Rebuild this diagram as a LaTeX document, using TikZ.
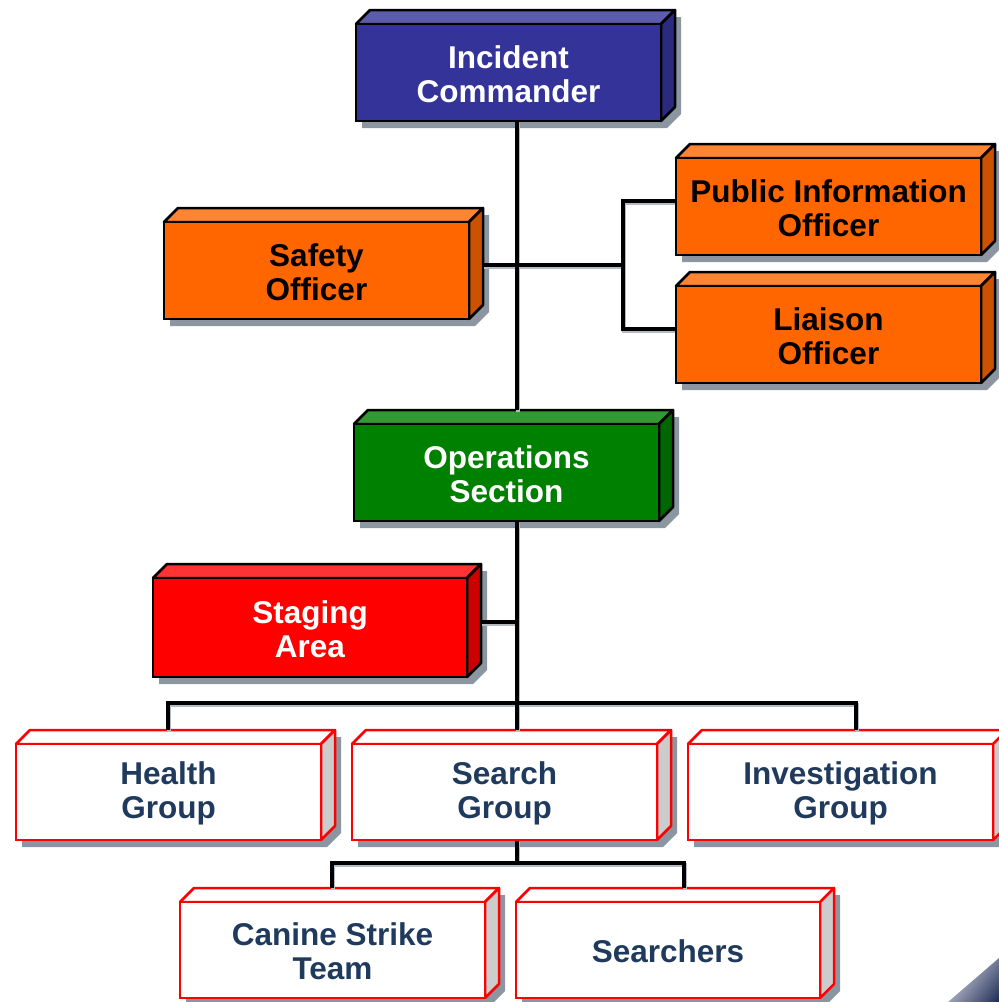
\documentclass[tikz,border=0pt]{standalone}
\usepackage{fontspec}
\setmainfont{Liberation Sans}
\usetikzlibrary{backgrounds,calc,shadings}
\definecolor{blueF}{HTML}{333399}\definecolor{blueT}{HTML}{5C5CAD}\definecolor{blueS}{HTML}{2A2A7F}\colorlet{blueB}{black}\colorlet{blueX}{white}
\definecolor{orangeF}{HTML}{FF6600}\definecolor{orangeT}{HTML}{FF8533}\definecolor{orangeS}{HTML}{CC5200}\colorlet{orangeB}{black}\colorlet{orangeX}{black}
\definecolor{greenF}{HTML}{008000}\definecolor{greenT}{HTML}{339933}\definecolor{greenS}{HTML}{006600}\colorlet{greenB}{black}\colorlet{greenX}{white}
\definecolor{redF}{HTML}{FF0000}\definecolor{redT}{HTML}{FF3333}\definecolor{redS}{HTML}{CC0000}\colorlet{redB}{black}\colorlet{redX}{white}
\definecolor{whiteF}{HTML}{FFFFFF}\definecolor{whiteT}{HTML}{FFFFFF}\definecolor{whiteS}{HTML}{CCCCCC}\definecolor{whiteB}{HTML}{FF0000}\definecolor{whiteX}{HTML}{1F3A5C}
\definecolor{shadowc}{HTML}{8C96A1}
\definecolor{lshadow}{HTML}{B4BAC2}
\definecolor{cornerc}{HTML}{1E2A55}
\newcommand\cubebox[7]{%
  \begin{scope}[on background layer]
    \fill[shadowc] (#3+6,#4+7) -- (#3+20,#4-7) -- (#5+20,#4-7) -- (#5+20,#6-7) -- (#5+6,#6+7) -- (#3+6,#6+7) -- cycle;
    \filldraw[fill=#1T, draw=#1B, line width=2.5, line join=round] (#3,#4) -- (#3+14,#4-14) -- (#5+14,#4-14) -- (#5,#4) -- cycle;
    \filldraw[fill=#1S, draw=#1B, line width=2.5, line join=round] (#5,#4) -- (#5+14,#4-14) -- (#5+14,#6-14) -- (#5,#6) -- cycle;
  \end{scope}
  \node[cube, fill=#1F, draw=#1B, minimum width={(#5-#3)*1pt}, minimum height={(#6-#4)*1pt}] (#2) at ({(#3+#5)/2},{(#4+#6)/2}) {};
  \node[cubetext, text=#1X] (#2-t) at ({(#3+#5)/2},{(#4+#6)/2+1.5}) {#7};
  \coordinate (#2-back) at (#3+14,#4-14);
  \coordinate (#2-w) at (#3,{(#4+#6)/2-5.5});
  \coordinate (#2-e) at (#5+14,{(#4+#6)/2-5.5});
}
\newcommand\connpaths{%
  \draw[cstyle] (ic.south -| trunk) -- (ops-back -| trunk);
  \draw[cstyle] (so-e) -- (so-e -| brk);
  \draw[cstyle] (pio-w) -- (pio-w -| brk) -- (lo-w -| brk) -- (lo-w);
  \draw[cstyle] (ops.south -| trunk) -- (b1l -| trunk);
  \draw[cstyle] (sa-e) -- (sa-e -| trunk);
  \draw[cstyle] (hg-back -| b1l) -- (b1l) -- (b1r) -- (ig-back -| b1r);
  \draw[cstyle] (trunk |- b1l) -- (sg-back -| trunk);
  \draw[cstyle] (sg.south -| trunk) -- (trunk |- b2l);
  \draw[cstyle] (cst-back -| b2l) -- (b2l) -- (b2r) -- (sr-back -| b2r);
}
\tikzset{
  cube/.style={line width=2.5, inner sep=0pt, outer sep=0pt},
  cubetext/.style={inner sep=0pt, outer sep=0pt, align=center,
    font=\fontsize{31.5}{34}\selectfont\bfseries},
  connline/.style={line width=3.6, line join=miter, line cap=butt, draw=black},
  connshadow/.style={line width=3.6, line join=miter, line cap=butt, draw=lshadow,
    transform canvas={shift={(1.2,2)}}},
}
\begin{document}
\begin{tikzpicture}[x=1pt,y=-1pt]
\useasboundingbox (0,0) rectangle (999,1002);
% corner artefact
\begin{scope}
  \clip (948,1002) -- (999,958) -- (999,1002) -- cycle;
  \shade[upper left=white, upper right=white!40!cornerc, lower left=white!60!cornerc, lower right=cornerc] (945,955) rectangle (999,1002);
\end{scope}
\cubebox{blue}{ic}{356}{24}{661}{121}{Incident\\Commander}
\cubebox{orange}{so}{164}{222}{469}{319}{Safety\\Officer}
\cubebox{orange}{pio}{676}{158}{981}{255}{Public Information\\Officer}
\cubebox{orange}{lo}{676}{286}{981}{383}{Liaison\\Officer}
\cubebox{green}{ops}{354}{424}{659}{521}{Operations\\Section}
\cubebox{red}{sa}{153}{578}{467}{677}{Staging\\Area}
\cubebox{white}{hg}{16}{744}{321}{840}{Health\\Group}
\cubebox{white}{sg}{352}{744}{657}{840}{Search\\Group}
\cubebox{white}{ig}{688}{744}{993}{840}{Investigation\\Group}
\cubebox{white}{cst}{180}{902}{485}{998}{Canine Strike\\Team}
\cubebox{white}{sr}{516}{902}{820}{998}{Searchers}
% connector reference points
\coordinate (trunk) at (517,0);
\coordinate (brk) at (623,0);
\coordinate (b1l) at (168,703);
\coordinate (b1r) at (856,703);
\coordinate (b2l) at (332,863);
\coordinate (b2r) at (684,863);
% connectors: shadows first, then lines
\begin{scope}[on background layer]
  \begin{scope}[cstyle/.style=connshadow]\connpaths\end{scope}
  \begin{scope}[cstyle/.style=connline]\connpaths\end{scope}
\end{scope}
\end{tikzpicture}
\end{document}
